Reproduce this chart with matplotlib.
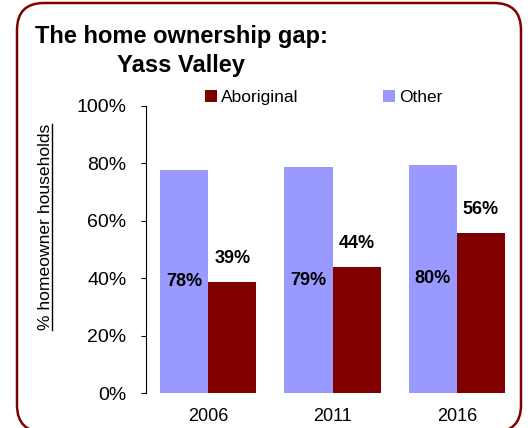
import matplotlib
matplotlib.use("Agg")
import matplotlib.pyplot as plt
import numpy as np
from matplotlib.patches import FancyBboxPatch
from matplotlib.lines import Line2D

plt.rcParams['font.family'] = ['Liberation Sans', 'DejaVu Sans']

years = ["2006", "2011", "2016"]
other = [77.6, 78.6, 79.6]
aboriginal = [38.6, 43.9, 55.6]
yticks = [0, 20, 40, 60, 80, 100]
ytick_labels = ["0%", "20%", "40%", "60%", "80%", "100%"]

c_other = "#9999FF"
c_abor = "#800000"

fig = plt.figure(figsize=(5.28, 4.28), dpi=100)
W, H = 528, 428

# rounded border
border = FancyBboxPatch((0.17, -0.04), 5.04, 4.29,
                        boxstyle="round,pad=0,rounding_size=0.27",
                        transform=fig.dpi_scale_trans, fill=False,
                        edgecolor=c_abor, linewidth=1.8, zorder=0)
fig.patches.append(border)

ax = fig.add_axes([146 / W, 1 - 393 / H, (519 - 146) / W, (393 - 106) / H])
x = np.arange(len(years))
w = 0.387
b_other = ax.bar(x - w / 2, other, w, color=c_other, label="Other")
b_abor = ax.bar(x + w / 2, aboriginal, w, color=c_abor, label="Aboriginal")

ax.bar_label(b_other, fmt="{:.0f}%", label_type="center",
             fontsize=13, fontweight="bold", color="black")
ax.bar_label(b_abor, fmt="{:.0f}%", padding=11,
             fontsize=13, fontweight="bold", color="black")

ax.set_xlim(-0.5, len(years) - 0.5)
ax.set_ylim(0, 100)
ax.set_yticks(yticks)
ax.set_yticklabels(ytick_labels)
ax.set_xticks(x)
ax.set_xticklabels(years)
ax.tick_params(axis="y", direction="out", length=3.5, width=0.8, pad=10.5, labelsize=14)
ax.tick_params(axis="x", length=0, pad=11, labelsize=13)
for s in ["top", "right", "bottom"]:
    ax.spines[s].set_visible(False)
ax.spines["left"].set_linewidth(0.8)
ax.patch.set_alpha(0)

leg = ax.legend(handles=[b_abor, b_other], ncol=2, frameon=False,
                loc="lower left", bbox_to_anchor=(205 / W, 1 - 105 / H),
                bbox_transform=fig.transFigure, borderpad=0, borderaxespad=0,
                handlelength=0.7, handleheight=0.7, handletextpad=0.2,
                columnspacing=4.9, fontsize=12.5)

fig.text(181 / W, 1 - 43 / H, "The home ownership gap:", ha="center", va="baseline",
         fontsize=17, fontweight="bold")
fig.text(181 / W, 1 - 72 / H, "Yass Valley", ha="center", va="baseline",
         fontsize=17, fontweight="bold")

ylab = fig.text(46 / W, 1 - 227 / H, "% homeowner households", rotation=90,
                ha="center", va="center", fontsize=12.6)
fig.canvas.draw()
bb = ylab.get_window_extent()
lx = (bb.x1 - 2) / W
fig.add_artist(Line2D([lx, lx], [bb.y0 / H, bb.y1 / H], color="black",
                      linewidth=1.0, transform=fig.transFigure))

fig.savefig("out.png", dpi=100)
